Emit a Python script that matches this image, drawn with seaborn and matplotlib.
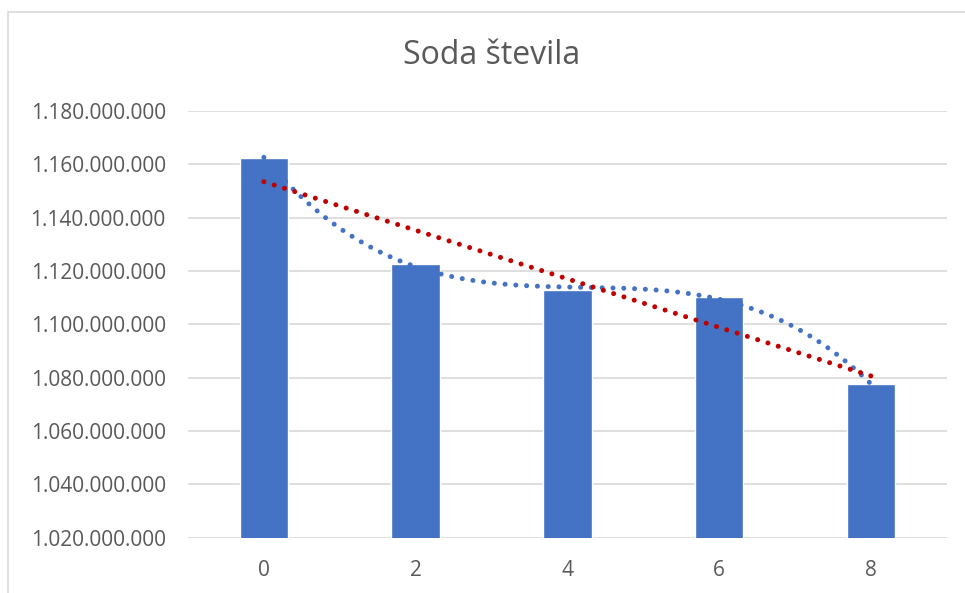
import numpy as np
import pandas as pd
import matplotlib
matplotlib.use("Agg")
import matplotlib.pyplot as plt
import matplotlib.ticker as mticker
from matplotlib.patches import Rectangle
import seaborn as sns

# ---- data ----
categories = ["0", "2", "4", "6", "8"]
x_values = [0, 2, 4, 6, 8]
values = [1162400000, 1122500000, 1112700000, 1110300000, 1077500000]
y_ticks = [1020000000, 1040000000, 1060000000, 1080000000, 1100000000,
           1120000000, 1140000000, 1160000000, 1180000000]
title = "Soda števila"

df = pd.DataFrame({"x": categories, "y": values})

sns.set_theme(style="white")
plt.rcParams["font.family"] = ["Open Sans", "DejaVu Sans"]

fig = plt.figure(figsize=(9.65, 5.93), dpi=100)
ax = fig.add_axes([188/965, 1-537.7/593, (946.7-188)/965, (537.7-111)/593])

sns.barplot(data=df, x="x", y="y", color="#4472C4", saturation=1,
            width=0.32, ax=ax, zorder=2)

# trendlines (fitted from the data, like Excel trendlines)
xs = np.linspace(0, 8, 200)
pos = xs / 2.0
lin = np.polyval(np.polyfit(x_values, values, 1), xs)
poly = np.polyval(np.polyfit(x_values, values, 3), xs)
dot = (0, (0.01, 2.15))
ax.plot(pos, poly, color="#4472C4", lw=3.6, linestyle=dot,
        dash_capstyle="round", zorder=3)
ax.plot(pos, lin, color="#C00000", lw=3.6, linestyle=dot,
        dash_capstyle="round", zorder=4)

ax.set_xlim(-0.5, 4.5)
ax.set_ylim(y_ticks[0], y_ticks[-1])
ax.set_yticks(y_ticks)
ax.yaxis.set_major_formatter(mticker.FuncFormatter(
    lambda v, p: f"{int(round(v)):,}".replace(",", ".")))
ax.set_xlabel("")
ax.set_ylabel("")
ax.grid(axis="y", color="#D9D9D9", lw=1.2, zorder=0)
ax.set_axisbelow(True)
for s in ax.spines.values():
    s.set_visible(False)
ax.tick_params(axis="both", length=0, labelsize=15, colors="#595959", pad=16)

fig.text(492/965, 1-55/593, title, ha="center", va="center",
         fontsize=23, color="#595959")

fig.patches.append(Rectangle((8/965, -0.05), 1.2, 1.05 - 12/593,
                             transform=fig.transFigure, fill=False,
                             edgecolor="#D9D9D9", lw=1.2))

fig.savefig("out.png", dpi=100)
